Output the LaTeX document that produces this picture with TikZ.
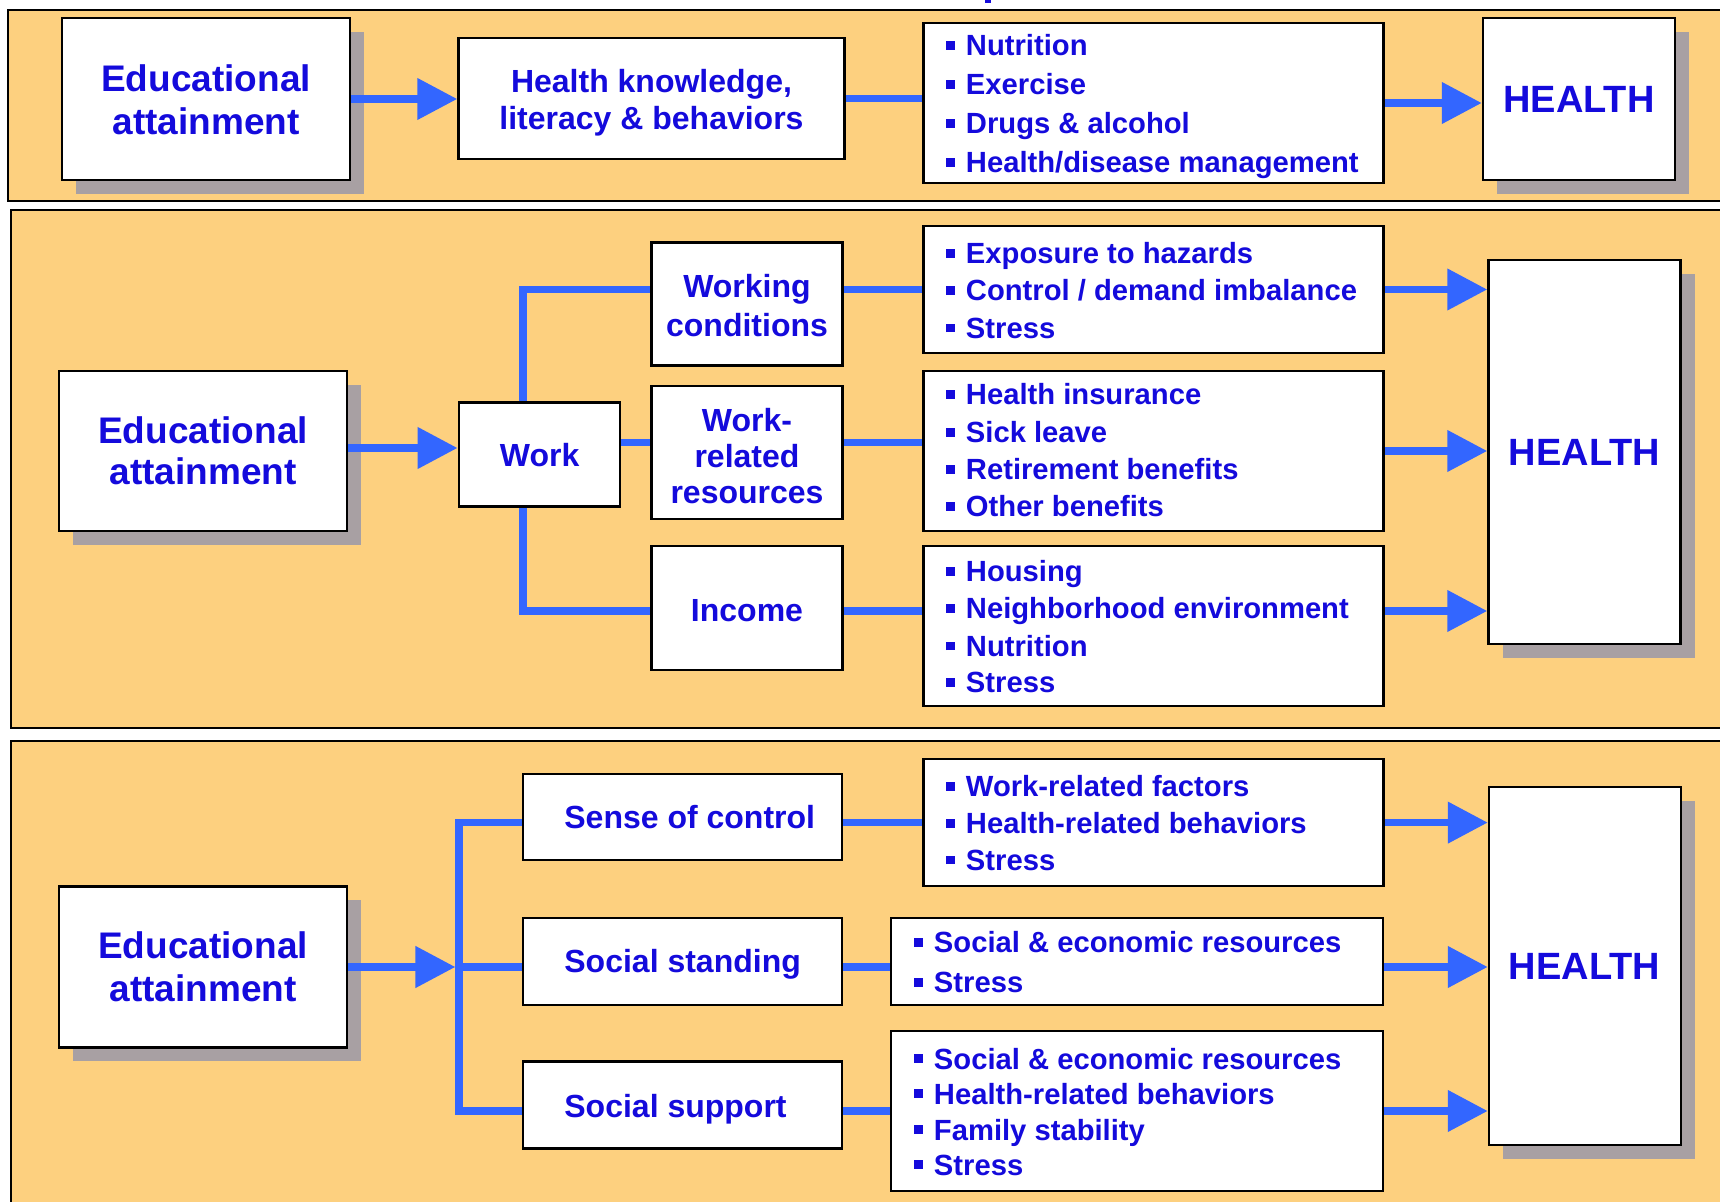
\documentclass[tikz,border=0pt]{standalone}
\usepackage{fontspec}
\setmainfont{Liberation Sans}
\usetikzlibrary{arrows.meta,shadows,calc}
\definecolor{panelc}{RGB}{253,208,127}
\definecolor{txtc}{RGB}{20,10,220}
\definecolor{linec}{RGB}{51,102,255}
\definecolor{shadc}{RGB}{168,160,163}
\newcommand\lbul{\rule[0.22em]{0.28em}{0.28em}\hspace{0.39em}}
\begin{document}
\begin{tikzpicture}[x=0.5pt,y=-0.5pt,
  panel/.style={fill=panelc,draw=black,line width=1.1pt},
  box/.style={draw=black,fill=white,line width=1.25pt,inner sep=0pt},
  sbox/.style={box,drop shadow={shadow xshift=7pt,shadow yshift=-7pt,fill=shadc,opacity=1}},
  conn/.style={draw=linec,line width=3.8pt},
  arr/.style={conn,-{Triangle[length=20pt,width=20pt]}},
  bigtxt/.style={text=txtc,font=\fontsize{18.5}{22}\selectfont\bfseries,inner sep=0pt,anchor=base},
  midtxt/.style={text=txtc,font=\fontsize{16}{19}\selectfont\bfseries,inner sep=0pt,anchor=base},
  midltxt/.style={midtxt,anchor=base west},
  itemtxt/.style={text=txtc,font=\fontsize{14.6}{17}\selectfont\bfseries,inner sep=0pt,anchor=base west},
  healthtxt/.style={text=txtc,font=\fontsize{19}{22}\selectfont\bfseries,inner sep=0pt,anchor=base}]
\useasboundingbox (0,0) rectangle (1720,1202);
\clip (0,0) rectangle (1720,1202);
\fill[white] (0,0) rectangle (1720,1202);
\fill[txtc] (985,0) rectangle (991,3);
% panels
\draw[panel] (8,10) rectangle (1760,201);
\draw[panel] (11,210) rectangle (1760,728);
\draw[panel] (11,741) rectangle (1760,1240);

% ---------- panel 1 ----------
\node[sbox,minimum width=144pt,minimum height=81pt] (e1) at (206,99) {};
\node[box,minimum width=193pt,minimum height=60.5pt] (hk) at (651.5,98.7) {};
\node[box,minimum width=230pt,minimum height=80pt] (l1) at (1153.3,103) {};
\node[sbox,minimum width=96pt,minimum height=81pt] (h1) at (1579,99) {};
\node[bigtxt] (e1a) at (206,92) {Educational};
\node[bigtxt] (e1b) at (206,134.5) {attainment};
\node[midtxt] (hka) at (651.5,92.7) {Health knowledge,};
\node[midtxt] (hkb) at (651.5,130) {literacy \& behaviors};
\node[itemtxt] (l1a) at (946,56) {\lbul Nutrition};
\node[itemtxt] (l1b) at (946,95) {\lbul Exercise};
\node[itemtxt] (l1c) at (946,134) {\lbul Drugs \& alcohol};
\node[itemtxt] (l1d) at (946,173) {\lbul Health/disease management};
\node[healthtxt] (h1t) at (1579,113) {HEALTH};
\draw[arr] (e1.east) -- (e1.east -| hk.west);
\draw[conn] (hk.east) -- (hk.east -| l1.west);
\draw[arr] (l1.east) -- (l1.east -| h1.west);

% ---------- panel 2 ----------
\node[sbox,minimum width=144pt,minimum height=80pt] (e2) at (203,451) {};
\node[box,minimum width=80.5pt,minimum height=52pt] (work) at (539.3,454.7) {};
\node[box,minimum width=95.5pt,minimum height=61.5pt] (wc) at (747,303.9) {};
\node[box,minimum width=95.5pt,minimum height=66.5pt] (wrr) at (747,452.4) {};
\node[box,minimum width=95.5pt,minimum height=62pt] (inc) at (747,608) {};
\node[box,minimum width=230pt,minimum height=63.5pt] (l2a) at (1153.3,289.5) {};
\node[box,minimum width=230pt,minimum height=80pt] (l2b) at (1153.3,451) {};
\node[box,minimum width=230pt,minimum height=80pt] (l2c) at (1153.3,626) {};
\node[sbox,minimum width=96pt,minimum height=192pt] (h2) at (1584.5,452) {};
\node[bigtxt] (e2a) at (203,443.3) {Educational};
\node[bigtxt] (e2b) at (203,485) {attainment};
\node[midtxt] (workt) at (539.7,466.7) {Work};
\node[midtxt] (wca) at (747,297.8) {Working};
\node[midtxt] (wcb) at (747,336.2) {conditions};
\node[midtxt] (wrra) at (747,431.6) {Work-};
\node[midtxt] (wrrb) at (747,467.8) {related};
\node[midtxt] (wrrc) at (747,504) {resources};
\node[midtxt] (inct) at (747,621.4) {Income};
\node[itemtxt] (l2a1) at (946,264) {\lbul Exposure to hazards};
\node[itemtxt] (l2a2) at (946,301) {\lbul Control / demand imbalance};
\node[itemtxt] (l2a3) at (946,338.5) {\lbul Stress};
\node[itemtxt] (l2b1) at (946,405) {\lbul Health insurance};
\node[itemtxt] (l2b2) at (946,443) {\lbul Sick leave};
\node[itemtxt] (l2b3) at (946,480) {\lbul Retirement benefits};
\node[itemtxt] (l2b4) at (946,517) {\lbul Other benefits};
\node[itemtxt] (l2c1) at (946,582) {\lbul Housing};
\node[itemtxt] (l2c2) at (946,619) {\lbul Neighborhood environment};
\node[itemtxt] (l2c3) at (946,656.5) {\lbul Nutrition};
\node[itemtxt] (l2c4) at (946,693) {\lbul Stress};
\node[healthtxt] (h2t) at (1584.5,465.7) {HEALTH};
\coordinate (wx) at (523,0);
\coordinate (wy) at (0,442.5);
\coordinate (ey) at (0,448);
\coordinate (iy) at (0,611);
\draw[arr] (e2.east |- ey) -- (work.west |- ey);
\draw[conn] (work.north -| wx) |- (wc.west |- l2a.west);
\draw[conn] (work.south -| wx) |- (inc.west |- iy);
\draw[conn] (work.east |- wy) -- (wrr.west |- wy);
\draw[conn] (wc.east |- l2a.west) -- (l2a.west);
\draw[conn] (wrr.east |- wy) -- (l2b.west |- wy);
\draw[conn] (inc.east |- iy) -- (l2c.west |- iy);
\draw[arr] (l2a.east) -- (l2a.east -| h2.west);
\draw[arr] (l2b.east) -- (l2b.east -| h2.west);
\draw[arr] (l2c.east |- iy) -- (h2.west |- iy);

% ---------- panel 3 ----------
\node[sbox,minimum width=144pt,minimum height=80.5pt] (e3) at (203,967) {};
\node[box,minimum width=159.5pt,minimum height=43pt] (soc) at (682.7,817.2) {};
\node[box,minimum width=159.5pt,minimum height=43.5pt] (ss) at (682.7,961.4) {};
\node[box,minimum width=159.5pt,minimum height=43.5pt] (ssup) at (682.7,1105.2) {};
\node[box,minimum width=230pt,minimum height=63.5pt] (l3a) at (1153.3,822.6) {};
\node[box,minimum width=246pt,minimum height=43.5pt] (l3b) at (1136.9,961.4) {};
\node[box,minimum width=246pt,minimum height=80pt] (l3c) at (1136.9,1111) {};
\node[sbox,minimum width=96pt,minimum height=179pt] (h3) at (1585,965.8) {};
\node[bigtxt] (e3a) at (203,958.8) {Educational};
\node[bigtxt] (e3b) at (203,1001.7) {attainment};
\node[midltxt] (soct) at (564,828.7) {Sense of control};
\node[midltxt] (sst) at (564,972.4) {Social standing};
\node[midltxt] (ssupt) at (564,1117.2) {Social support};
\node[itemtxt] (l3a1) at (946,797) {\lbul Work-related factors};
\node[itemtxt] (l3a2) at (946,834) {\lbul Health-related behaviors};
\node[itemtxt] (l3a3) at (946,870.5) {\lbul Stress};
\node[itemtxt] (l3b1) at (914,953) {\lbul Social \& economic resources};
\node[itemtxt] (l3b2) at (914,993) {\lbul Stress};
\node[itemtxt] (l3c1) at (914,1069) {\lbul Social \& economic resources};
\node[itemtxt] (l3c2) at (914,1104) {\lbul Health-related behaviors};
\node[itemtxt] (l3c3) at (914,1140) {\lbul Family stability};
\node[itemtxt] (l3c4) at (914,1175) {\lbul Stress};
\node[healthtxt] (h3t) at (1584.5,980) {HEALTH};
\coordinate (j3) at (459,967);
\draw[arr,shorten >=1.8pt] (e3.east) -- (e3.east -| j3);
\draw[conn] (soc.west |- l3a.west) -- (j3 |- l3a.west) -- (j3 |- l3c.west) -- (ssup.west |- l3c.west);
\draw[conn] (j3) -- (ss.west |- j3);
\draw[conn] (soc.east |- l3a.west) -- (l3a.west);
\draw[conn] (ss.east |- j3) -- (l3b.west |- j3);
\draw[conn] (ssup.east |- l3c.west) -- (l3c.west);
\draw[arr] (l3a.east) -- (l3a.east -| h3.west);
\draw[arr] (l3b.east |- j3) -- (h3.west |- j3);
\draw[arr] (l3c.east) -- (l3c.east -| h3.west);
\end{tikzpicture}
\end{document}
